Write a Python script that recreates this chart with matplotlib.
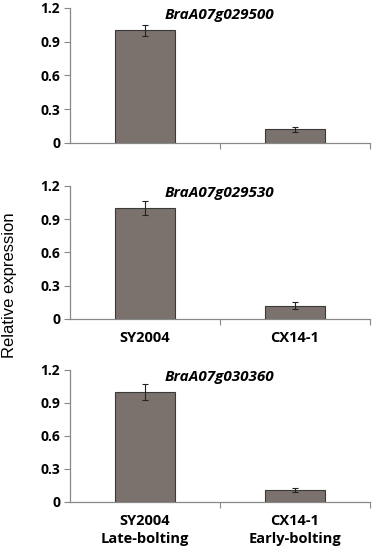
import matplotlib.pyplot as plt
import numpy as np
from matplotlib.transforms import offset_copy

plt.rcParams['font.family'] = ['Open Sans', 'DejaVu Sans']

genes = ['BraA07g029500', 'BraA07g029530', 'BraA07g030360']
lines = ['SY2004', 'CX14-1']
phenotypes = ['Late-bolting', 'Early-bolting']
expr = [[1.0, 0.12], [1.0, 0.12], [1.0, 0.11]]
err = [[0.05, 0.02], [0.06, 0.03], [0.07, 0.02]]
yticks = [0, 0.3, 0.6, 0.9, 1.2]

fig = plt.figure(figsize=(3.74, 5.5), dpi=100)
left, width = 0.187, 0.802
boxes = [(0.74, 0.2455), (0.42, 0.242), (0.0873, 0.240)]

x = np.arange(len(lines)) + 0.5
for i, (bottom, height) in enumerate(boxes):
    ax = fig.add_axes([left, bottom, width, height])
    ax.bar(x, expr[i], width=0.4, color='#7b726d', edgecolor='#3a3a3a', linewidth=0.8,
           yerr=err[i], error_kw=dict(ecolor='#222222', elinewidth=0.8, capsize=2.2, capthick=0.8))
    ax.set_xlim(0, 2)
    ax.set_ylim(0, 1.2)
    ax.set_yticks(yticks)
    ax.set_yticklabels(['0', '0.3', '0.6', '0.9', '1.2'], fontsize=10, fontweight='bold')
    ax.set_xticks([1, 2])
    ax.set_xticklabels([])
    ax.set_xticks(x, minor=True)
    if i == 0:
        ax.set_xticklabels([], minor=True)
    elif i == 1:
        ax.set_xticklabels(lines, minor=True, fontsize=10.5, fontweight='bold')
    else:
        ax.set_xticklabels([f'{a}\n{b}' for a, b in zip(lines, phenotypes)], minor=True,
                           fontsize=10.5, fontweight='bold', linespacing=1.35)
    ax.tick_params(axis='x', which='minor', length=0, pad=9)
    ax.tick_params(axis='x', which='major', length=4, color='#888888')
    ax.tick_params(axis='y', length=4, color='#888888', pad=3)
    for s in ['top', 'right']:
        ax.spines[s].set_visible(False)
    for s in ['left', 'bottom']:
        ax.spines[s].set_color('#888888')
        ax.spines[s].set_linewidth(0.9)
    tr = offset_copy(ax.transAxes, fig=fig, x=0, y=-5, units='points')
    ax.text(0.5, 1.0, genes[i], transform=tr, ha='center', va='center',
            fontsize=11, fontweight='bold', fontstyle='italic')
    ax.set_facecolor('none')

fig.text(0.025, 0.482, 'Relative expression', rotation=90, ha='center', va='center',
         fontsize=12, family=['Liberation Sans', 'DejaVu Sans'])

fig.savefig('out.png', dpi=100)
